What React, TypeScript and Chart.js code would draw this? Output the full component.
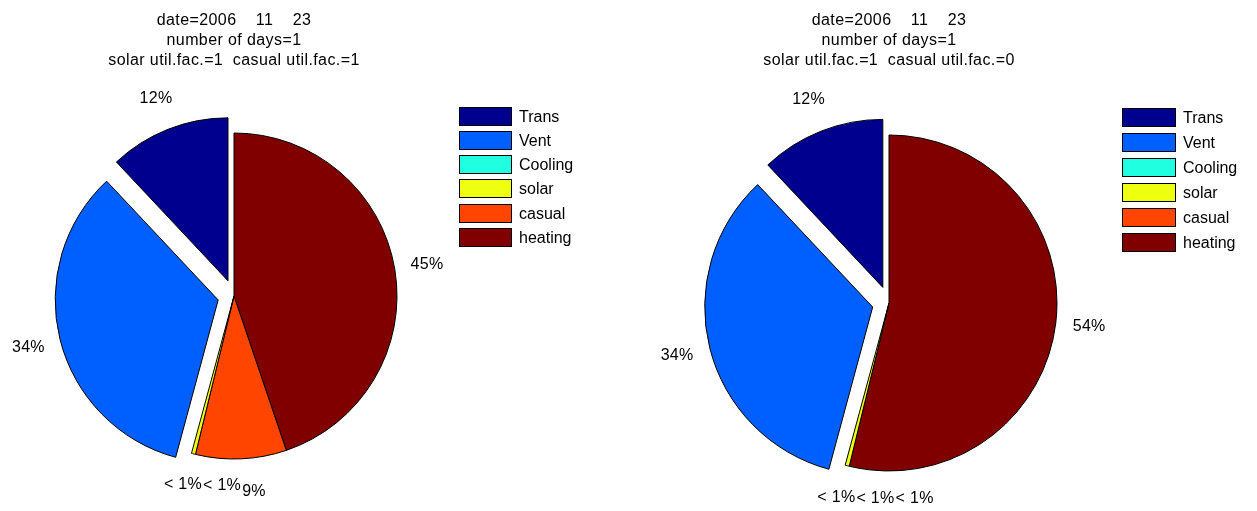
import { useEffect, useRef } from 'react';
import { Chart, registerables } from 'chart.js';

Chart.register(...registerables);

// Heat balance components, listed in legend order (MATLAB pie order, counter-clockwise from 12 o'clock)
const categories = ['Trans', 'Vent', 'Cooling', 'solar', 'casual', 'heating'];
const sliceColors = ['#00008F', '#0060FF', '#20FFDF', '#EFFF10', '#FF4500', '#800000'];
const explodedSlices = [true, true, false, false, false, false];

// Share of the daily load (%) with casual gains counted / ignored
const casualOnValues = [12.0, 33.8, 0, 0.4, 9.0, 44.8];
const casualOffValues = [12.0, 33.8, 0, 0.4, 0, 53.8];

const casualOnTitle = ['date=2006    11    23', 'number of days=1', 'solar util.fac.=1  casual util.fac.=1'];
const casualOffTitle = ['date=2006    11    23', 'number of days=1', 'solar util.fac.=1  casual util.fac.=0'];

const FONT_FAMILY = 'Arial, "Liberation Sans", Helvetica, sans-serif';

type PanelLayout = {
  left: number;
  width: number;
  padding: { left: number; right: number; top: number; bottom: number };
  radius: number;
  legendX: number;
  legendY: number;
  rowH: number;
  boxW: number;
  boxH: number;
};

const leftLayout: PanelLayout = {
  left: 0,
  width: 628,
  padding: { left: 0, right: 160, top: 81, bottom: 0 },
  radius: 163,
  legendX: 459,
  legendY: 106.5,
  rowH: 24.3,
  boxW: 53,
  boxH: 19,
};

const rightLayout: PanelLayout = {
  left: 628,
  width: 629,
  padding: { left: 0, right: 107, top: 95, bottom: 0 },
  radius: 168,
  legendX: 494,
  legendY: 108,
  rowH: 25,
  boxW: 54,
  boxH: 19,
};

function pieTextPlugin(values: number[], title: string[], layout: PanelLayout) {
  const n = values.length;
  const total = values.reduce((a, b) => a + b, 0);
  return {
    id: 'pieText',
    // pull exploded wedges out along their bisector by a tenth of the radius
    afterDatasetUpdate(chart: any) {
      const meta = chart.getDatasetMeta(0);
      meta.data.forEach((arc: any, i: number) => {
        const cat = n - 1 - i;
        if (!explodedSlices[cat]) return;
        const mid = (arc.startAngle + arc.endAngle) / 2;
        const d = 0.1 * arc.outerRadius;
        arc.x += Math.cos(mid) * d;
        arc.y += Math.sin(mid) * d;
      });
    },
    // percentage labels at 1.2 radii along each wedge's bisector
    afterDatasetsDraw(chart: any) {
      const ctx = chart.ctx as CanvasRenderingContext2D;
      const meta = chart.getDatasetMeta(0);
      ctx.save();
      ctx.font = `16px ${FONT_FAMILY}`;
      (ctx as any).letterSpacing = '0.3px';
      ctx.fillStyle = '#000';
      ctx.textAlign = 'center';
      ctx.textBaseline = 'middle';
      const gap = 1;
      let prev: { x: number; y: number; w: number } | null = null;
      for (let cat = 0; cat < n; cat++) {
        const arc = meta.data[n - 1 - cat];
        const mid = (arc.startAngle + arc.endAngle) / 2;
        const r = arc.outerRadius * 1.2;
        let x = arc.x + Math.cos(mid) * r;
        const y = arc.y + Math.sin(mid) * r;
        const pct = (values[cat] / total) * 100;
        const text = pct < 1 ? '< 1%' : `${Math.round(pct)}%`;
        const w = ctx.measureText(text).width;
        if (
          prev &&
          Math.abs(prev.y - y) < 16 &&
          x - w / 2 < prev.x + prev.w / 2 + gap &&
          x + w / 2 > prev.x - prev.w / 2 - gap
        ) {
          x = prev.x + prev.w / 2 + gap + w / 2;
        }
        ctx.fillText(text, x, y);
        prev = { x, y, w };
      }
      ctx.restore();
    },
    afterDraw(chart: any) {
      const ctx = chart.ctx as CanvasRenderingContext2D;
      const area = chart.chartArea;
      ctx.save();
      // three-line title above the pie
      ctx.font = `16px ${FONT_FAMILY}`;
      (ctx as any).letterSpacing = '0.4px';
      ctx.fillStyle = '#000';
      ctx.textAlign = 'center';
      ctx.textBaseline = 'alphabetic';
      const cx = (area.left + area.right) / 2;
      title.forEach((line, i) => ctx.fillText(line, cx, 25 + i * 20));
      (ctx as any).letterSpacing = '0px';

      // legend: colour box with black edge, then the name
      ctx.textAlign = 'left';
      ctx.textBaseline = 'middle';
      ctx.lineWidth = 1;
      categories.forEach((name, i) => {
        const y = Math.round(layout.legendY + i * layout.rowH);
        ctx.fillStyle = sliceColors[i];
        ctx.fillRect(layout.legendX, y, layout.boxW, layout.boxH);
        ctx.strokeStyle = '#000';
        ctx.strokeRect(layout.legendX + 0.5, y + 0.5, layout.boxW - 1, layout.boxH - 1);
        ctx.fillStyle = '#000';
        ctx.fillText(name, layout.legendX + layout.boxW + 7, y + layout.boxH / 2 + 1);
      });
      ctx.restore();
    },
  };
}

function PiePanel({ values, title, layout }: { values: number[]; title: string[]; layout: PanelLayout }) {
  const canvasRef = useRef<HTMLCanvasElement | null>(null);

  useEffect(() => {
    const canvas = canvasRef.current;
    if (!canvas) return;
    // Chart.js sweeps clockwise, so feed the wedges in reverse to get MATLAB's counter-clockwise order
    const chartValues = [...values].reverse();
    const chartColors = [...sliceColors].reverse();
    const chartLabels = [...categories].reverse();
    const chart = new Chart(canvas, {
      type: 'pie',
      data: {
        labels: chartLabels,
        datasets: [
          {
            data: chartValues,
            backgroundColor: chartColors,
            borderColor: '#000',
            borderWidth: 1,
            radius: layout.radius,
            offset: 0,
          } as any,
        ],
      },
      options: {
        responsive: false,
        animation: false,
        events: [],
        layout: { padding: layout.padding },
        plugins: {
          legend: { display: false },
          title: { display: false },
          tooltip: { enabled: false },
        },
      },
      plugins: [pieTextPlugin(values, title, layout)],
    });
    return () => chart.destroy();
  }, [values, title, layout]);

  return (
    <canvas
      ref={canvasRef}
      width={layout.width}
      height={511}
      style={{ position: 'absolute', left: layout.left, top: 0, width: layout.width, height: 511 }}
    />
  );
}

export default function App() {
  return (
    <div style={{ position: 'absolute', left: 0, top: 0, width: 1257, height: 511, background: '#fff', overflow: 'hidden' }}>
      <PiePanel values={casualOnValues} title={casualOnTitle} layout={leftLayout} />
      <PiePanel values={casualOffValues} title={casualOffTitle} layout={rightLayout} />
    </div>
  );
}
